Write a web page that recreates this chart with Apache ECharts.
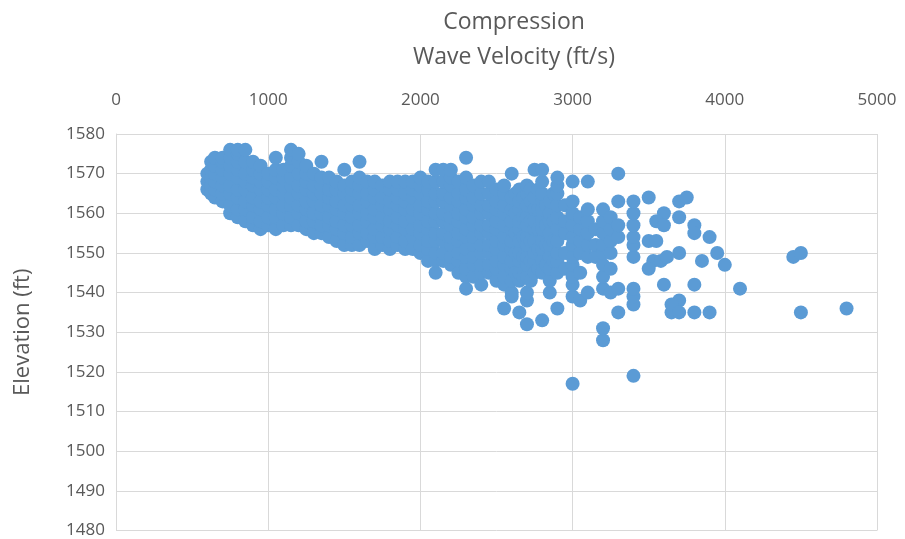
<!DOCTYPE html>
<html>
<head>
<meta charset="utf-8">
<script src="https://cdn.jsdelivr.net/npm/echarts@6/dist/echarts.min.js"></script>
<style>
  html, body { margin: 0; padding: 0; background: #ffffff; }
  #chart { width: 905px; height: 539px; }
</style>
</head>
<body>
<div id="chart"></div>
<script>
// Axis ticks
const velocityTicks = [0, 1000, 2000, 3000, 4000, 5000];
const elevationTicks = [1480, 1490, 1500, 1510, 1520, 1530, 1540, 1550, 1560, 1570, 1580];

// Readings grouped by velocity column: [velocity ft/s, [elevations ft]]
const slowBand = [
  [600, [1566, 1568, 1570]],
  [625, [1565, 1567, 1569, 1571, 1573]],
  [650, [1564, 1566, 1568, 1570, 1572, 1574]],
  [700, [1563, 1565, 1567, 1569, 1571, 1573, 1574]],
  [750, [1560, 1562, 1565, 1567, 1570, 1572, 1574, 1576]],
  [800, [1559, 1561, 1564, 1566, 1569, 1571, 1573, 1575, 1576]],
  [850, [1558, 1561, 1563, 1566, 1568, 1570, 1573, 1576]],
  [900, [1557, 1559, 1562, 1564, 1567, 1569, 1571, 1573]],
  [950, [1556, 1558, 1561, 1563, 1566, 1568, 1570, 1572]]
];

const lowerMidBand = [
  [1000, [1557, 1559, 1562, 1564, 1566, 1568, 1570]],
  [1050, [1556, 1559, 1561, 1564, 1566, 1569, 1571, 1574]],
  [1100, [1557, 1560, 1562, 1565, 1567, 1569, 1571]],
  [1150, [1557, 1559, 1562, 1564, 1567, 1569, 1572, 1574, 1576]],
  [1200, [1557, 1560, 1562, 1565, 1567, 1570, 1573, 1575]],
  [1250, [1556, 1558, 1561, 1563, 1566, 1568, 1570, 1572]],
  [1300, [1555, 1558, 1560, 1563, 1565, 1567, 1570]],
  [1350, [1555, 1557, 1560, 1562, 1565, 1567, 1569, 1573]],
  [1400, [1554, 1557, 1559, 1562, 1564, 1566, 1569]],
  [1450, [1553, 1556, 1558, 1561, 1563, 1566, 1568]],
  [1500, [1552, 1555, 1557, 1560, 1562, 1565, 1567, 1571]]
];

const upperMidBand = [
  [1550, [1552, 1554, 1557, 1559, 1562, 1564, 1566, 1568]],
  [1600, [1552, 1555, 1557, 1560, 1562, 1565, 1567, 1569, 1573]],
  [1650, [1553, 1555, 1558, 1560, 1563, 1565, 1568]],
  [1700, [1551, 1554, 1556, 1559, 1561, 1564, 1566, 1568]],
  [1750, [1552, 1554, 1557, 1559, 1562, 1564, 1567]],
  [1800, [1551, 1553, 1556, 1558, 1561, 1563, 1566, 1568]],
  [1850, [1552, 1554, 1557, 1559, 1562, 1564, 1566, 1568]],
  [1900, [1551, 1553, 1556, 1558, 1561, 1563, 1565, 1568]],
  [1950, [1551, 1554, 1556, 1559, 1561, 1564, 1566, 1568]],
  [2000, [1550, 1552, 1555, 1557, 1560, 1562, 1565, 1567, 1569]],
  [2050, [1548, 1551, 1553, 1556, 1558, 1561, 1563, 1566, 1568]]
];

const denseBand = [
  [2100, [1545, 1548, 1550, 1553, 1555, 1558, 1560, 1563, 1565, 1568, 1571]],
  [2150, [1548, 1550, 1553, 1555, 1558, 1560, 1563, 1565, 1568, 1571]],
  [2200, [1547, 1549, 1552, 1554, 1557, 1559, 1562, 1564, 1567, 1569, 1571]],
  [2250, [1545, 1548, 1550, 1553, 1555, 1558, 1560, 1563, 1565, 1568]],
  [2300, [1541, 1544, 1546, 1549, 1551, 1554, 1556, 1559, 1561, 1564, 1566, 1569, 1574]],
  [2350, [1544, 1547, 1549, 1552, 1554, 1557, 1559, 1562, 1564, 1567]],
  [2400, [1542, 1545, 1547, 1550, 1552, 1555, 1557, 1560, 1562, 1565, 1568]],
  [2450, [1545, 1547, 1550, 1552, 1555, 1557, 1560, 1562, 1565, 1568]],
  [2500, [1543, 1546, 1548, 1551, 1553, 1556, 1558, 1561, 1563, 1566]],
  [2550, [1536, 1542, 1544, 1547, 1549, 1552, 1554, 1557, 1560, 1562, 1565, 1567]]
];

const fastBand = [
  [2600, [1539, 1540, 1543, 1546, 1548, 1551, 1553, 1556, 1558, 1561, 1564, 1570]],
  [2625, [1545, 1550, 1555, 1560, 1565]],
  [2650, [1535, 1543, 1545, 1548, 1550, 1553, 1556, 1558, 1561, 1563, 1566]],
  [2675, [1544, 1549, 1554, 1559, 1564]],
  [2700, [1532, 1538, 1540, 1544, 1547, 1549, 1552, 1554, 1557, 1559, 1562, 1565, 1567]],
  [2725, [1543, 1548, 1553, 1558, 1563, 1566]],
  [2750, [1545, 1548, 1550, 1553, 1556, 1558, 1561, 1564, 1571]],
  [2775, [1546, 1551, 1556, 1561, 1566]],
  [2800, [1533, 1545, 1548, 1551, 1553, 1556, 1558, 1561, 1563, 1565, 1568, 1571]],
  [2825, [1547, 1552, 1557, 1562]],
  [2850, [1540, 1543, 1546, 1549, 1552, 1555, 1558, 1560, 1563]],
  [2875, [1548, 1553, 1558, 1565]],
  [2900, [1536, 1545, 1548, 1550, 1553, 1556, 1559, 1562, 1565, 1567, 1569]],
  [2950, [1546, 1550, 1555, 1558, 1562]],
  [3000, [1517, 1539, 1542, 1544, 1547, 1549, 1552, 1554, 1557, 1560, 1563, 1568]],
  [3050, [1538, 1545, 1550, 1553, 1556, 1559]],
  [3100, [1540, 1549, 1552, 1555, 1558, 1561, 1568]],
  [3150, [1549, 1552, 1556]],
  [3200, [1528, 1531, 1541, 1544, 1547, 1550, 1552, 1555, 1558, 1561]],
  [3250, [1540, 1546, 1550, 1553, 1556, 1559]],
  [3300, [1535, 1541, 1554, 1557, 1563, 1570]],
  [3400, [1519, 1537, 1539, 1541, 1549, 1552, 1554, 1557, 1560, 1563]]
];

// Scattered high-velocity readings: [velocity, elevation]
const sparsePoints = [
  [3500, 1564], [3700, 1563], [3750, 1564], [3600, 1560], [3700, 1559],
  [3550, 1558], [3600, 1557], [3800, 1557], [3800, 1555], [3900, 1554],
  [3950, 1550], [4000, 1547], [4100, 1541], [3700, 1550], [3850, 1548],
  [3800, 1542], [3600, 1542], [3500, 1553], [3550, 1553], [3530, 1548],
  [3580, 1548], [3500, 1546], [3620, 1549], [3650, 1535], [3700, 1538],
  [3800, 1535], [3900, 1535], [3650, 1537], [3700, 1535],
  [4450, 1549], [4500, 1550], [4500, 1535], [4800, 1536]
];

function expandColumns(band) {
  const out = [];
  band.forEach(([v, elevs]) => elevs.forEach(e => out.push([v, e])));
  return out;
}

const points = []
  .concat(expandColumns(slowBand))
  .concat(expandColumns(lowerMidBand))
  .concat(expandColumns(upperMidBand))
  .concat(expandColumns(denseBand))
  .concat(expandColumns(fastBand))
  .concat(sparsePoints);

const textColor = '#595959';
const gridColor = '#d9d9d9';
const fontFamily = '"Open Sans", "Noto Sans", sans-serif';
const plainNumber = v => String(v);

const chart = echarts.init(document.getElementById('chart'), null, { renderer: 'canvas' });
chart.setOption({
  animation: false,
  backgroundColor: '#ffffff',
  title: {
    text: 'Compression\nWave Velocity (ft/s)',
    left: 509,
    top: 0,
    textAlign: 'center',
    textStyle: {
      color: textColor,
      fontFamily: fontFamily,
      fontWeight: 'normal',
      fontSize: 23,
      lineHeight: 35
    }
  },
  grid: { left: 116, right: 28, top: 134, bottom: 7, containLabel: false },
  xAxis: {
    type: 'value',
    position: 'top',
    min: velocityTicks[0],
    max: velocityTicks[velocityTicks.length - 1],
    interval: velocityTicks[1] - velocityTicks[0],
    axisLine: { show: false },
    axisTick: { show: false },
    axisLabel: { color: textColor, fontFamily: fontFamily, fontSize: 17, margin: 25, formatter: plainNumber },
    splitLine: { show: true, lineStyle: { color: gridColor, width: 1 } }
  },
  yAxis: {
    type: 'value',
    min: elevationTicks[0],
    max: elevationTicks[elevationTicks.length - 1],
    interval: elevationTicks[1] - elevationTicks[0],
    name: 'Elevation (ft)',
    nameLocation: 'middle',
    nameGap: 82,
    nameTextStyle: { color: textColor, fontFamily: fontFamily, fontSize: 22 },
    axisLine: { show: true, lineStyle: { color: gridColor } },
    axisTick: { show: false },
    axisLabel: { color: textColor, fontFamily: fontFamily, fontSize: 17, margin: 11, formatter: plainNumber },
    splitLine: { show: true, lineStyle: { color: gridColor, width: 1 } }
  },
  series: [{
    type: 'scatter',
    data: points,
    symbol: 'circle',
    symbolSize: 14,
    itemStyle: { color: '#5b9bd5', opacity: 1 }
  }]
});
</script>
</body>
</html>
